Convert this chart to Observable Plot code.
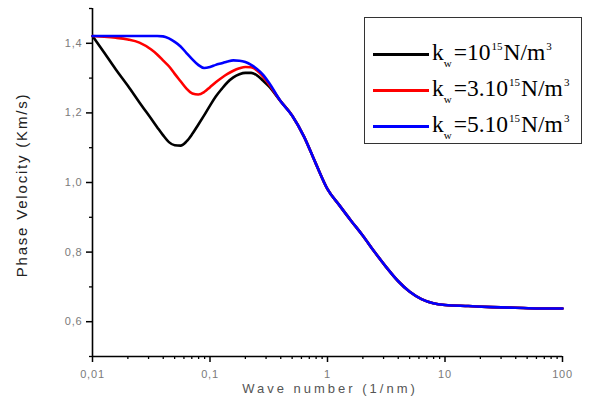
<!DOCTYPE html>
<html>
<head>
<meta charset="utf-8">
<script src="https://cdn.jsdelivr.net/npm/d3@7"></script>
<script src="https://cdn.jsdelivr.net/npm/@observablehq/plot@0.6"></script>
<style>
  html, body { margin: 0; padding: 0; background: #fff; }
  #wrap { position: relative; width: 590px; height: 405px; }
  #legend {
    position: absolute; left: 364px; top: 17px; width: 216px; height: 125px;
    border: 1.6px solid #333; background: #fff; box-sizing: content-box;
    font-family: "Liberation Serif", "Times New Roman", serif; font-size: 23.5px; color: #000;
  }
  .row { position: absolute; left: 0; height: 30px; display: flex; align-items: center; }
  .swatch { width: 56px; height: 3px; margin-left: 8px; margin-right: 3px; }
  .row sub { font-size: 11px; vertical-align: -7px; margin-right: 2px; }
  .row sup { font-size: 11px; vertical-align: 10px; margin-left: 1px; margin-right: 1px; }
</style>
</head>
<body>
<div id="wrap"></div>
<script>
// Wave number (1/nm)
const waveNumber = [0.01, 0.0126, 0.0158, 0.02, 0.0251, 0.0316, 0.0355, 0.0398, 0.0447, 0.0501,
  0.0562, 0.0631, 0.0708, 0.0794, 0.0891, 0.1, 0.112, 0.126, 0.141, 0.158,
  0.178, 0.2, 0.224, 0.251, 0.282, 0.316, 0.398, 0.501, 0.631, 0.794,
  1, 1.26, 1.58, 2, 2.51, 3.16, 3.98, 5.01, 6.31, 7.94,
  10, 15.8, 25.1, 39.8, 63.1, 100];

// Phase velocity (Km/s) per foundation stiffness
const vK1 = [1.421, 1.373, 1.325, 1.278, 1.23, 1.183, 1.159, 1.136, 1.116, 1.107,
  1.106, 1.118, 1.14, 1.166, 1.193, 1.221, 1.247, 1.269, 1.288, 1.302,
  1.311, 1.315, 1.315, 1.308, 1.293, 1.277,
  1.234, 1.192, 1.132, 1.055, 0.981, 0.935, 0.891, 0.847, 0.801, 0.757,
  0.717, 0.686, 0.665, 0.653, 0.648, 0.645, 0.642, 0.640, 0.638, 0.638];
const vK3 = [1.421, 1.419, 1.416, 1.411, 1.402, 1.382, 1.368, 1.351, 1.334, 1.312,
  1.291, 1.27, 1.256, 1.253, 1.26, 1.274, 1.288, 1.301, 1.312, 1.321,
  1.328, 1.332, 1.331, 1.322, 1.305, 1.283,
  1.234, 1.192, 1.132, 1.055, 0.981, 0.935, 0.891, 0.847, 0.801, 0.757,
  0.717, 0.686, 0.665, 0.653, 0.648, 0.645, 0.642, 0.640, 0.638, 0.638];
const vK5 = [1.421, 1.421, 1.421, 1.421, 1.421, 1.421, 1.421, 1.42, 1.414, 1.404,
  1.391, 1.372, 1.354, 1.338, 1.329, 1.332, 1.338, 1.343, 1.348, 1.351,
  1.35, 1.346, 1.338, 1.326, 1.31, 1.288,
  1.234, 1.192, 1.132, 1.055, 0.981, 0.935, 0.891, 0.847, 0.801, 0.757,
  0.717, 0.686, 0.665, 0.653, 0.648, 0.645, 0.642, 0.640, 0.638, 0.638];

const seriesNames = ["k1", "k3", "k5"];
const seriesColors = ["#000000", "#ff0000", "#0000ff"];
const seriesLabels = ["10", "3.10", "5.10"];

const xMajor = [0.01, 0.1, 1, 10, 100];
const xMinor = [];
for (const d of [0.01, 0.1, 1, 10]) for (let m = 2; m <= 9; m++) xMinor.push(+(d * m).toPrecision(3));
const yMajor = [0.6, 0.8, 1.0, 1.2, 1.4];
const yMinor = [0.5, 0.7, 0.9, 1.1, 1.3, 1.5];

const xTitle = "Wave number (1/nm)";
const yTitle = "Phase Velocity (Km/s)";

const allVals = [vK1, vK3, vK5];
const data = [];
seriesNames.forEach((s, i) => waveNumber.forEach((k, j) => data.push({series: s, k, v: allVals[i][j]})));

const fmt = d => String(d).replace(".", ",");
const fmtY = d => d.toFixed(1).replace(".", ",");

const chart = Plot.plot({
  width: 590,
  height: 405,
  marginLeft: 92,
  marginRight: 28,
  marginTop: 8,
  marginBottom: 49,
  style: {fontFamily: "'Liberation Sans', Arial, sans-serif", background: "#fff"},
  x: {type: "log", domain: [0.01, 100]},
  y: {domain: [0.5, 1.5]},
  color: {domain: seriesNames, range: seriesColors},
  marks: [
    Plot.axisX(xMinor, {tickSize: 3, tickFormat: () => "", strokeWidth: 1.3, stroke: "#000", label: null}),
    Plot.axisX(xMajor, {tickSize: 6, tickPadding: 8, tickFormat: fmt, strokeWidth: 1.5, stroke: "#000", fill: "#7a7a7a", fontSize: 11, label: null}),
    Plot.axisY(yMinor, {tickSize: 3, tickFormat: () => "", strokeWidth: 1.3, stroke: "#000", label: null}),
    Plot.axisY(yMajor, {tickSize: 6, tickPadding: 4, tickFormat: fmtY, strokeWidth: 1.5, stroke: "#000", fill: "#7a7a7a", fontSize: 11, label: null}),
    Plot.ruleY([0.5], {stroke: "#000", strokeWidth: 1.6}),
    Plot.ruleX([0.01], {stroke: "#000", strokeWidth: 1.6}),
    Plot.line(data, {x: "k", y: "v", z: "series", stroke: "series", strokeWidth: 2.6, curve: "monotone-x"}),
    Plot.text([xTitle], {frameAnchor: "bottom", dy: 36, fontSize: 13, fill: "#555"}),
    Plot.text([yTitle], {frameAnchor: "left", dx: -70, rotate: -90, fontSize: 15, fill: "#222"})
  ]
});

const wrap = document.getElementById("wrap");
wrap.appendChild(chart);

// letter spacing, then re-center the titles on their intended centers
let xEl = null, yEl = null;
d3.select(chart).selectAll("text").each(function () {
  const t = this.textContent;
  if (t === xTitle) { this.style.letterSpacing = "3px"; xEl = this; }
  else if (t === yTitle) { this.style.letterSpacing = "1.8px"; yEl = this; }
  else this.style.letterSpacing = "0.8px";
});
const svgRect = chart.getBoundingClientRect();
function shift(el, cx, cy) {
  if (!el) return;
  const r = el.getBoundingClientRect();
  const dx = cx == null ? 0 : cx - (r.left - svgRect.left + r.width / 2);
  const dy = cy == null ? 0 : cy - (r.top - svgRect.top + r.height / 2);
  const tr = el.getAttribute("transform") || "";
  el.setAttribute("transform", `translate(${dx},${dy}) ${tr}`);
}
shift(xEl, 330, null);
shift(yEl, null, 185);

const legend = document.createElement("div");
legend.id = "legend";
const rowTops = [21, 57, 93];
seriesNames.forEach((s, i) => {
  const row = document.createElement("div");
  row.className = "row";
  row.style.top = rowTops[i] + "px";
  const sw = document.createElement("div");
  sw.className = "swatch";
  sw.style.background = seriesColors[i];
  row.appendChild(sw);
  const t = document.createElement("span");
  t.innerHTML = "k<sub>w</sub>=" + seriesLabels[i] + "<sup>15</sup>N/m<sup>3</sup>";
  row.appendChild(t);
  legend.appendChild(row);
});
wrap.appendChild(legend);
</script>
</body>
</html>
